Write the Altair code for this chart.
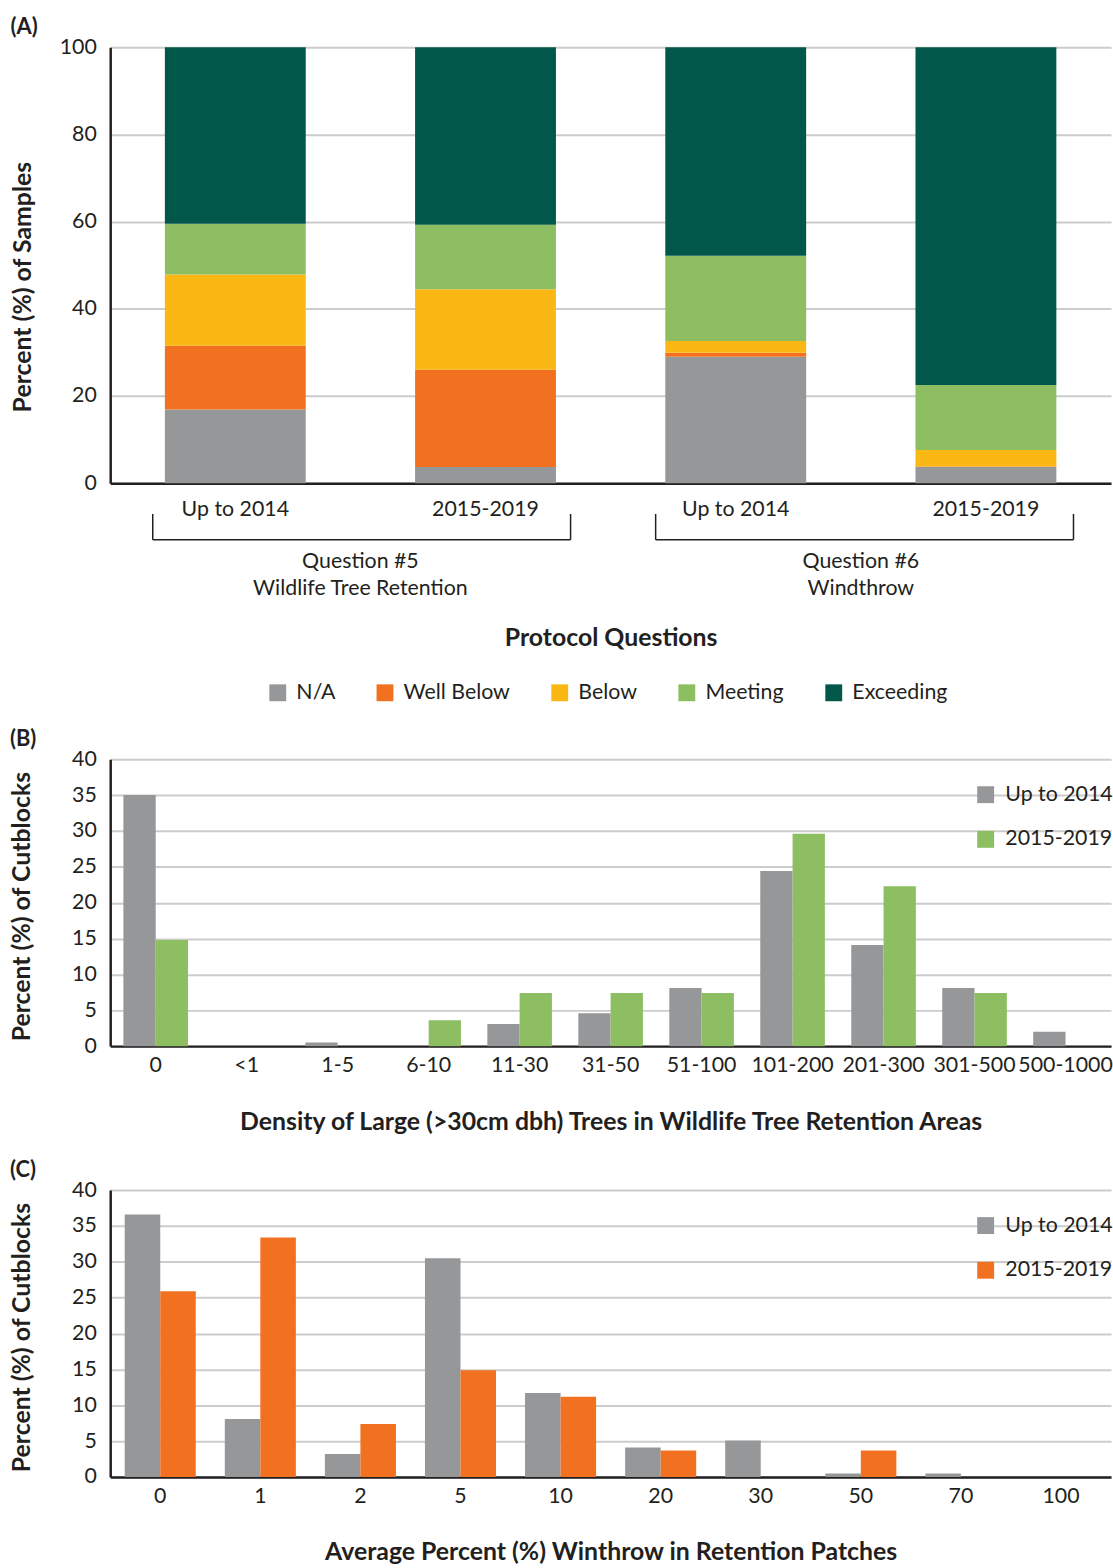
import altair as alt
import pandas as pd

FONT = "Lato"
INK = "#231f20"
GRID = "#cccccc"
LABEL_SIZE = 21.5
TITLE_SIZE = 25

# ---------------- Panel A: protocol question ratings ----------------
bar_keys = ["Q5|Up to 2014", "Q5|2015-2019", "Q6|Up to 2014", "Q6|2015-2019"]
ratings = ["N/A", "Well Below", "Below", "Meeting", "Exceeding"]
rating_colors = ["#969799", "#f27121", "#fbb814", "#8dbe62", "#02574b"]
na_pct = [16.9, 3.7, 29.0, 3.7]
well_below_pct = [14.6, 22.3, 0.9, 0.1]
below_pct = [16.4, 18.5, 2.7, 3.8]
meeting_pct = [11.6, 14.8, 19.6, 14.9]
exceeding_pct = [40.5, 40.7, 47.8, 77.5]

question_names = ["Question #5\nWildlife Tree Retention", "Question #6\nWindthrow"]
question_centres = [1.0, 3.0]
bracket_left = [0.17, 2.18]
bracket_right = [1.84, 3.85]

# ---------------- Panel B: large-tree density ----------------
periods = ["Up to 2014", "2015-2019"]
density_bins = ["0", "<1", "1-5", "6-10", "11-30", "31-50", "51-100",
                "101-200", "201-300", "301-500", "500-1000"]
density_upto2014 = [35.0, 0.0, 0.5, 0.0, 3.1, 4.6, 8.1, 24.4, 14.1, 8.1, 2.0]
density_2015_2019 = [14.8, 0.0, 0.0, 3.6, 7.4, 7.4, 7.4, 29.6, 22.3, 7.4, 0.0]

# ---------------- Panel C: windthrow in retention patches ----------------
windthrow_bins = ["0", "1", "2", "5", "10", "20", "30", "50", "70", "100"]
windthrow_upto2014 = [36.6, 8.1, 3.2, 30.5, 11.7, 4.1, 5.1, 0.5, 0.5, 0.0]
windthrow_2015_2019 = [25.9, 33.4, 7.4, 14.9, 11.2, 3.7, 0.0, 3.7, 0.0, 0.0]

PLOT_W = 1008


def panel_title(text):
    return alt.TitleParams(text, anchor="start", frame="bounds", fontSize=22,
                           fontWeight="bold", font=FONT, color=INK, offset=-3)


rows = []
for i, key in enumerate(bar_keys):
    for r, (name, series) in enumerate(zip(ratings, [na_pct, well_below_pct, below_pct,
                                                      meeting_pct, exceeding_pct])):
        rows.append({"bar": key, "rating": name, "rank": r, "pct": series[i]})
df_a = pd.DataFrame(rows)

bars_a = alt.Chart(df_a).mark_bar().encode(
    x=alt.X("bar:N", sort=bar_keys,
            scale=alt.Scale(paddingInner=0.437, paddingOuter=0.2185),
            axis=alt.Axis(title="Protocol Questions", labelExpr="split(datum.label, '|')[1]",
                          labelAngle=0, labelPadding=16, titlePadding=106, ticks=False,
                          grid=False)),
    y=alt.Y("pct:Q", stack="zero", scale=alt.Scale(domain=[0, 100], nice=False),
            axis=alt.Axis(title="Percent (%) of Samples", values=[0, 20, 40, 60, 80, 100],
                          titlePadding=24, titleY=241)),
    color=alt.Color("rating:N", sort=ratings,
                    scale=alt.Scale(domain=ratings, range=rating_colors),
                    legend=alt.Legend(title=None, orient="none", direction="horizontal",
                                      legendX=158, legendY=639, columnPadding=39,
                                      symbolType="square", symbolSize=289,
                                      labelOffset=8)),
    order=alt.Order("rank:Q", sort="ascending"),
)

df_q = pd.DataFrame({"name": question_names, "centre": question_centres,
                     "left": bracket_left, "right": bracket_right})
df_ends = pd.DataFrame({"pos": bracket_left + bracket_right})
qscale = alt.Scale(domain=[0, 4], nice=False, zero=False)

bracket_h = alt.Chart(df_q).mark_rule(color=INK, strokeWidth=1.5).encode(
    x=alt.X("left:Q", scale=qscale, axis=None),
    x2="right:Q",
    y=alt.value(496),
)
bracket_v = alt.Chart(df_ends).mark_rule(color=INK, strokeWidth=1.5).encode(
    x=alt.X("pos:Q", scale=qscale, axis=None),
    y=alt.value(470),
    y2=alt.value(496),
)
question_text = alt.Chart(df_q).mark_text(
    font=FONT, fontSize=LABEL_SIZE, color=INK, baseline="top", lineBreak="\n", lineHeight=28
).encode(
    x=alt.X("centre:Q", scale=qscale, axis=None),
    y=alt.value(507),
    text="name:N",
)

panel_a = alt.layer(bars_a, bracket_h, bracket_v, question_text).resolve_scale(
    x="independent"
).properties(width=PLOT_W, height=439, title=panel_title("(A)"))


def grouped_panel(bins, first, second, colour, ytitle, xtitle, label):
    rows = []
    for i, b in enumerate(bins):
        rows.append({"bin": b, "period": periods[0], "pct": first[i]})
        rows.append({"bin": b, "period": periods[1], "pct": second[i]})
    df = pd.DataFrame(rows)
    return alt.Chart(df).mark_bar().encode(
        x=alt.X("bin:N", sort=bins,
                scale=alt.Scale(paddingInner=0.29, paddingOuter=0.145),
                axis=alt.Axis(title=xtitle, labelAngle=0, labelPadding=9,
                              titlePadding=33, ticks=False, grid=False)),
        xOffset=alt.XOffset("period:N", sort=periods, scale=alt.Scale(paddingInner=0)),
        y=alt.Y("pct:Q", scale=alt.Scale(domain=[0, 40], nice=False),
                axis=alt.Axis(title=ytitle, values=list(range(0, 41, 5)),
                              titlePadding=37, titleY=148)),
        color=alt.Color("period:N", sort=periods,
                        scale=alt.Scale(domain=periods, range=["#969799", colour]),
                        legend=alt.Legend(title=None, orient="none", legendX=871,
                                          legendY=25, rowPadding=22,
                                          symbolType="square", symbolSize=289,
                                          labelOffset=9)),
    ).properties(width=PLOT_W, height=289, title=panel_title(label))


panel_b = grouped_panel(density_bins, density_upto2014, density_2015_2019, "#8dbe62",
                        "Percent (%) of Cutblocks",
                        "Density of Large (>30cm dbh) Trees in Wildlife Tree Retention Areas",
                        "(B)")
panel_c = grouped_panel(windthrow_bins, windthrow_upto2014, windthrow_2015_2019, "#f27121",
                        "Percent (%) of Cutblocks",
                        "Average Percent (%) Winthrow in Retention Patches",
                        "(C)")

chart = alt.vconcat(panel_a, panel_b, panel_c, spacing=25).resolve_scale(
    x="independent", y="independent", color="independent", xOffset="independent"
).properties(
    padding={"left": 10, "top": 11, "right": 0, "bottom": 0}
).configure_view(
    stroke=None
).configure_axis(
    labelFont=FONT, titleFont=FONT, labelFontSize=LABEL_SIZE, titleFontSize=TITLE_SIZE,
    titleFontWeight="bold", labelColor=INK, titleColor=INK,
    domainColor=INK, domainWidth=2.5, gridColor=GRID, gridWidth=2,
    labelPadding=14, ticks=False,
).configure_legend(
    labelFont=FONT, labelFontSize=LABEL_SIZE, labelColor=INK,
)

chart.save("out.html", embed_options={"renderer": "svg", "actions": False})
